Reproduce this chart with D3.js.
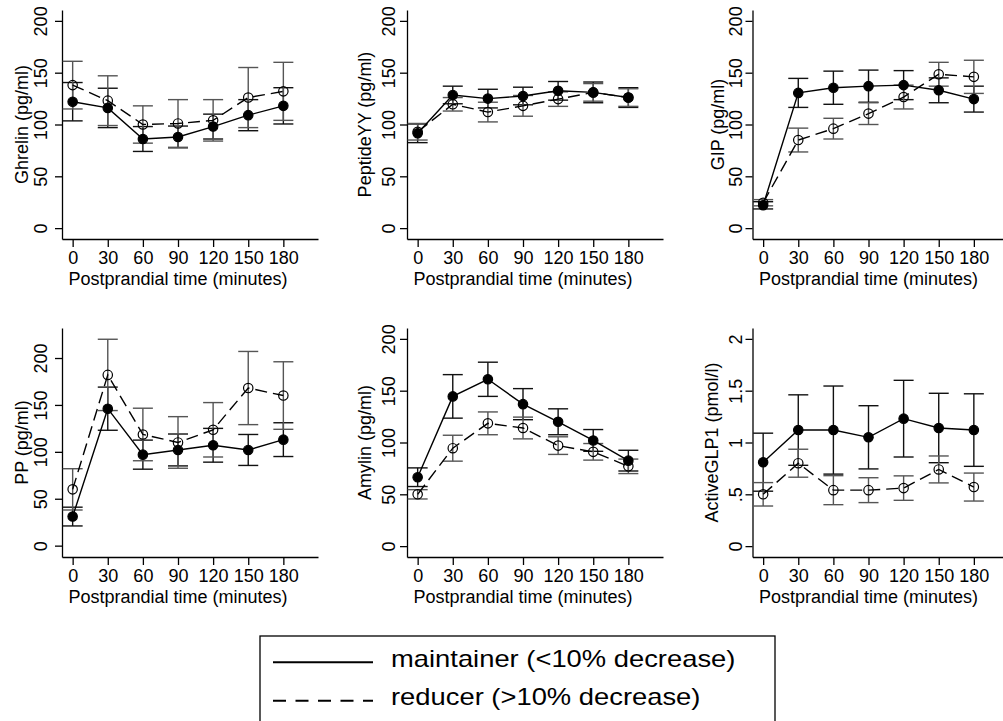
<!DOCTYPE html>
<html lang="en">
<head>
    <meta charset="UTF-8">
    <title>Gut hormones - maintainer vs reducer</title>
    <script src="https://d3js.org/d3.v7.min.js"></script>
    <style>
        body { margin: 0; background: #fff; }
        text { font-family: "Liberation Sans", Arial, sans-serif; fill: #000; }
    </style>
</head>
<body>
    <div id="my_dataviz"></div>
    <script>
        // postprandial sampling times (minutes)
        var times = [0, 30, 60, 90, 120, 150, 180];

        // means and error (half bar) per hormone, M = maintainer, R = reducer
        var ghrelinM   = [122, 116, 86, 88, 98, 109, 118];
        var ghrelinMse = [18.5, 19, 12, 10.5, 12, 15, 17.5];
        var ghrelinR   = [138, 123, 100, 101, 104, 126, 132];
        var ghrelinRse = [23, 24, 18, 23, 20, 29, 28];

        var pyyM   = [91.5, 128.5, 125, 127.5, 132.5, 131, 126];
        var pyyMse = [9, 8.5, 9, 8.5, 9, 10, 9.5];
        var pyyR   = [93, 119.5, 112, 118, 124.5, 131, 126];
        var pyyRse = [8, 6.5, 9.5, 10, 7, 8.5, 8.5];

        var gipM   = [22, 130.5, 135.5, 137, 138, 133, 124.5];
        var gipMse = [3.5, 14, 16, 15.5, 14, 12, 12.5];
        var gipR   = [24.5, 85, 96, 110.5, 126.5, 148.5, 146];
        var gipRse = [3, 11.5, 10, 10.5, 11.5, 11.5, 16];

        var ppM   = [31, 146, 97, 102, 107, 102, 113];
        var ppMse = [10, 23, 15.5, 17, 18, 16.5, 18];
        var ppR   = [60, 182, 118.5, 110, 123.5, 168, 160];
        var ppRse = [22, 38, 28, 27.5, 29, 39, 36];

        var amylinM   = [66.5, 144.5, 161, 137, 120, 102, 82.5];
        var amylinMse = [9, 21, 16.5, 15, 12.5, 10.5, 10];
        var amylinR   = [50, 94.5, 118.5, 114, 97, 91, 77];
        var amylinRse = [4.5, 12.5, 11, 10.5, 8.5, 8, 7];

        var glpM   = [0.81, 1.12, 1.12, 1.05, 1.23, 1.14, 1.12];
        var glpMse = [0.28, 0.34, 0.425, 0.305, 0.37, 0.335, 0.35];
        var glpR   = [0.50, 0.80, 0.54, 0.54, 0.56, 0.74, 0.57];
        var glpRse = [0.113, 0.135, 0.14, 0.12, 0.118, 0.13, 0.135];

        // axis ticks
        var pgTicks = [0, 50, 100, 150, 200];
        var pgLabels = ["0", "50", "100", "150", "200"];
        var glpTicks = [0, 0.5, 1, 1.5, 2];
        var glpLabels = ["0", ".5", "1", "1.5", "2"];
        var xTickLabels = ["0", "30", "60", "90", "120", "150", "180"];

        var xTitle = "Postprandial time (minutes)";
        var legendLabels = ["maintainer (<10% decrease)", "reducer (>10% decrease)"];

        var panels = [
            {title: "Ghrelin (pg/ml)",     m: ghrelinM, mse: ghrelinMse, r: ghrelinR, rse: ghrelinRse, domain: [-10.5, 210.5], ticks: pgTicks,  labels: pgLabels},
            {title: "PeptideYY (pg/ml)",   m: pyyM,     mse: pyyMse,     r: pyyR,     rse: pyyRse,     domain: [-10.5, 210.5], ticks: pgTicks,  labels: pgLabels},
            {title: "GIP (pg/ml)",         m: gipM,     mse: gipMse,     r: gipR,     rse: gipRse,     domain: [-10.5, 210.5], ticks: pgTicks,  labels: pgLabels},
            {title: "PP (pg/ml)",          m: ppM,      mse: ppMse,      r: ppR,      rse: ppRse,      domain: [-12.1, 232],   ticks: pgTicks,  labels: pgLabels},
            {title: "Amylin (pg/ml)",      m: amylinM,  mse: amylinMse,  r: amylinR,  rse: amylinRse,  domain: [-10.5, 210.5], ticks: pgTicks,  labels: pgLabels},
            {title: "ActiveGLP1 (pmol/l)", m: glpM,     mse: glpMse,     r: glpR,     rse: glpRse,     domain: [-0.105, 2.105], ticks: glpTicks, labels: glpLabels}
        ];

        // layout
        var colLeft = [62, 407, 752.5],
            rowTop = [10, 328],
            plotW = 256,
            plotH = 229,
            tickGap = [15, 12, 11],
            titleGap = [34, 36, 29, 34, 36, 35];

        var svg = d3.select("#my_dataviz")
            .append("svg")
            .attr("width", 1003)
            .attr("height", 721);

        var x = d3.scaleLinear().domain([-9.1, 209.6]).range([0, plotW]);

        panels.forEach(function(p, i) {
            var col = i % 3;
            var g = svg.append("g")
                .attr("transform", "translate(" + colLeft[col] + "," + rowTop[Math.floor(i / 3)] + ")");

            var y = d3.scaleLinear().domain(p.domain).range([plotH, 0]);

            // y axis with rotated labels
            var ya = g.append("g")
                .call(d3.axisLeft(y).tickValues(p.ticks).tickSize(7).tickSizeOuter(0)
                    .tickFormat(function(d, k) { return p.labels[k]; }));
            ya.selectAll("text")
                .attr("x", 0).attr("dy", 0)
                .attr("text-anchor", "middle")
                .attr("transform", "translate(" + (-tickGap[col]) + ",0) rotate(-90)")
                .style("font-size", "18px");

            // x axis
            var xa = g.append("g")
                .attr("transform", "translate(0," + plotH + ")")
                .call(d3.axisBottom(x).tickValues(times).tickSize(8).tickSizeOuter(0)
                    .tickFormat(function(d, k) { return xTickLabels[k]; }));
            xa.selectAll("text")
                .attr("y", 0).attr("dy", 0)
                .attr("transform", "translate(0,25)")
                .style("font-size", "18px");

            g.selectAll(".domain, .tick line").attr("stroke", "#000").attr("stroke-width", 1.3);
            g.selectAll(".tick text").attr("fill", "#000").attr("font-family", null);

            g.append("text")
                .attr("x", x(90))
                .attr("y", plotH + 45.5)
                .attr("text-anchor", "middle")
                .style("font-size", "18px")
                .text(xTitle);

            g.append("text")
                .attr("transform", "translate(" + (-titleGap[i]) + "," + (plotH / 2) + ") rotate(-90)")
                .attr("text-anchor", "middle")
                .style("font-size", "18px")
                .text(p.title);

            var series = [
                {v: p.m, se: p.mse, dash: null,   fill: "#000", bar: "#111"},
                {v: p.r, se: p.rse, dash: "12,6", fill: "none", bar: "#555"}
            ];

            // error bars
            series.forEach(function(s) {
                var eb = g.append("g").attr("stroke", s.bar).attr("stroke-width", 1.4);
                eb.selectAll(null).data(times).enter().append("line")
                    .attr("x1", function(t) { return x(t); })
                    .attr("x2", function(t) { return x(t); })
                    .attr("y1", function(t, k) { return y(s.v[k] + s.se[k]); })
                    .attr("y2", function(t, k) { return y(s.v[k] - s.se[k]); });
                [1, -1].forEach(function(sign) {
                    eb.selectAll(null).data(times).enter().append("line")
                        .attr("x1", function(t) { return x(t) - 10; })
                        .attr("x2", function(t) { return x(t) + 10; })
                        .attr("y1", function(t, k) { return y(s.v[k] + sign * s.se[k]); })
                        .attr("y2", function(t, k) { return y(s.v[k] + sign * s.se[k]); });
                });
            });

            // connecting lines
            var line = d3.line()
                .x(function(d) { return x(d[0]); })
                .y(function(d) { return y(d[1]); });

            series.forEach(function(s) {
                g.append("path")
                    .datum(times.map(function(t, k) { return [t, s.v[k]]; }))
                    .attr("d", line)
                    .attr("fill", "none")
                    .attr("stroke", "#000")
                    .attr("stroke-width", 1.4)
                    .attr("stroke-dasharray", s.dash);
            });

            // markers
            series.forEach(function(s) {
                g.selectAll(null).data(times).enter().append("circle")
                    .attr("cx", function(t) { return x(t); })
                    .attr("cy", function(t, k) { return y(s.v[k]); })
                    .attr("r", 4.7)
                    .attr("fill", s.fill)
                    .attr("stroke", "#000")
                    .attr("stroke-width", 1.2);
            });
        });

        // legend (text is a bit wider than tall in the original export)
        var lg = svg.append("g");
        lg.append("rect")
            .attr("x", 260).attr("y", 636)
            .attr("width", 515).attr("height", 100)
            .attr("fill", "none").attr("stroke", "#000").attr("stroke-width", 1.3);

        legendLabels.forEach(function(lbl, k) {
            var ly = 662.3 + k * 38.5;
            lg.append("line")
                .attr("x1", 273).attr("x2", 373)
                .attr("y1", ly).attr("y2", ly)
                .attr("stroke", "#000").attr("stroke-width", 2)
                .attr("stroke-dasharray", k === 0 ? null : "13,9.5");
            lg.append("text")
                .attr("transform", "translate(391," + (ly + 4.6) + ") scale(1.19,1)")
                .style("font-size", "23px")
                .text(lbl);
        });
    </script>
</body>
</html>
